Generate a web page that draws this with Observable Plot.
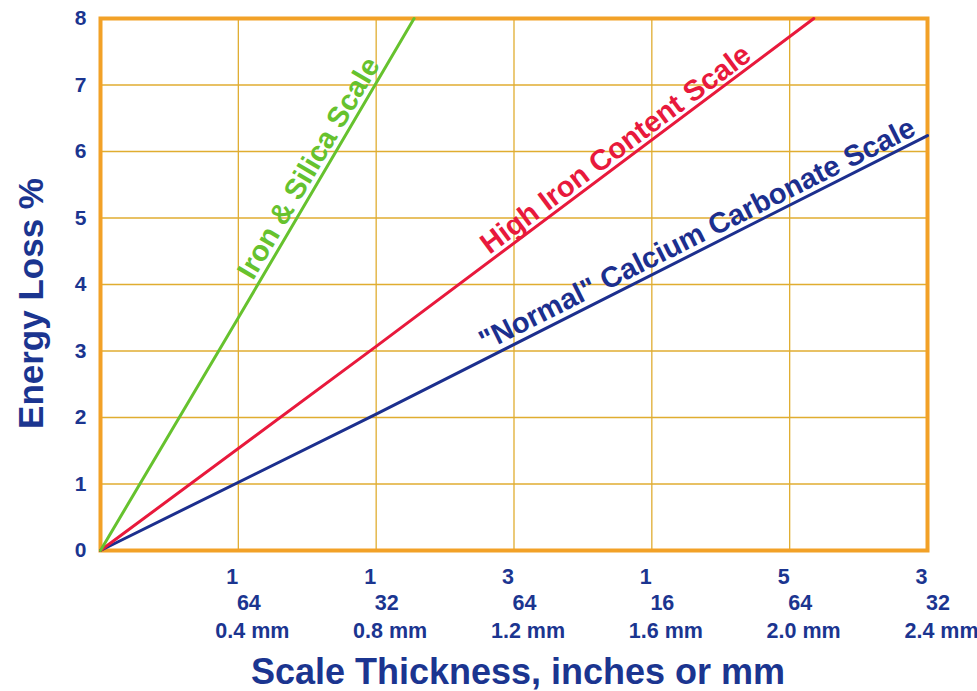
<!DOCTYPE html>
<html>
<head>
<meta charset="utf-8">
<script src="https://cdn.jsdelivr.net/npm/d3@7"></script>
<script src="https://cdn.jsdelivr.net/npm/@observablehq/plot@0.6"></script>
<style>
  html, body { margin: 0; padding: 0; background: #fff; }
  #chart svg { display: block; }
</style>
</head>
<body>
<div id="chart"></div>
<script>
// ---- data ----
const xTicksMm = [0.4, 0.8, 1.2, 1.6, 2.0, 2.4];
const fracNumerators = ["1", "1", "3", "1", "5", "3"];
const fracDenominators = ["64", "32", "64", "16", "64", "32"];
const mmLabels = ["0.4 mm", "0.8 mm", "1.2 mm", "1.6 mm", "2.0 mm", "2.4 mm"];
const yTicks = [0, 1, 2, 3, 4, 5, 6, 7, 8];

const normalX = [0, 0.8, 2.4];
const normalY = [0, 2.05, 6.24];
const highIronX = [0, 0.8, 2.07];
const highIronY = [0, 3.07, 8];
const ironSilicaX = [0, 0.4, 0.91];
const ironSilicaY = [0, 3.5, 8];

const seriesNames = ["\"Normal\" Calcium Carbonate Scale", "High Iron Content Scale", "Iron & Silica Scale"];
const labelAtX = [1.75, 1.52, 0.64];
const labelAtY = [4.56, 5.86, 5.64];

const xTitle = "Scale Thickness, inches or mm";
const yTitle = "Energy Loss %";

// ---- styles ----
const NAVY = "#1b3590";
const colors = ["#1c2f8e", "#e8193c", "#66c22e"];
const FONT = "'Liberation Sans', Arial, sans-serif";

const seriesData = [
  normalX.map((x, i) => ({x, y: normalY[i]})),
  highIronX.map((x, i) => ({x, y: highIronY[i]})),
  ironSilicaX.map((x, i) => ({x, y: ironSilicaY[i]}))
];
const tickTable = xTicksMm.map((x, i) => ({x, num: fracNumerators[i], den: fracDenominators[i], mm: mmLabels[i]}));

function chart(angles) {
  const labelMarks = seriesNames.map((name, i) => {
    const a = angles ? angles[i] : 0; // degrees, negative = upward
    const rad = -a * Math.PI / 180;
    const d = 5;
    return Plot.text([{x: labelAtX[i], y: labelAtY[i], t: name}], {
      x: "x", y: "y", text: "t",
      rotate: a,
      lineAnchor: "bottom",
      textAnchor: "middle",
      dx: -d * Math.sin(rad), dy: -d * Math.cos(rad),
      fill: colors[i], fontSize: 29, fontWeight: "bold", fontFamily: FONT
    });
  });
  return Plot.plot({
    width: 977,
    height: 691,
    marginLeft: 100,
    marginRight: 50,
    marginTop: 18,
    marginBottom: 141,
    style: {fontFamily: FONT, background: "#fff", overflow: "visible"},
    x: {domain: [0, 2.4], axis: null},
    y: {domain: [0, 8], axis: null},
    marks: [
      Plot.gridX(xTicksMm, {stroke: "#e0ad30", strokeOpacity: 1, strokeWidth: 1.3}),
      Plot.gridY(yTicks, {stroke: "#e0ad30", strokeOpacity: 1, strokeWidth: 1.3}),
      Plot.frame({stroke: "#f2a127", strokeWidth: 4}),
      ...seriesData.map((data, i) => Plot.line(data, {x: "x", y: "y", stroke: colors[i], strokeWidth: 3})),
      ...labelMarks,
      Plot.axisY(yTicks, {tickSize: 0, tickPadding: 14, tickFormat: "d", fontSize: 21, fontWeight: "bold", color: NAVY, fontFamily: FONT, label: null}),
      Plot.text(tickTable, {x: "x", frameAnchor: "bottom", text: "num", dx: -6, dy: 27, lineAnchor: "middle", fill: NAVY, fontSize: 21.5, fontWeight: "bold", fontFamily: FONT}),
      Plot.text(tickTable, {x: "x", frameAnchor: "bottom", text: "den", dx: 10.5, dy: 53, lineAnchor: "middle", fill: NAVY, fontSize: 21.5, fontWeight: "bold", fontFamily: FONT}),
      Plot.text(tickTable, {x: "x", frameAnchor: "bottom", text: "mm", dx: 14, dy: 81, lineAnchor: "middle", fill: NAVY, fontSize: 21.5, fontWeight: "bold", fontFamily: FONT}),
      Plot.text([xTitle], {frameAnchor: "bottom", dx: 4, dy: 122, textAnchor: "middle", lineAnchor: "middle", fill: NAVY, fontSize: 36, fontWeight: "bold", fontFamily: FONT}),
      Plot.text([yTitle], {frameAnchor: "left", dx: -58, dy: 19, rotate: -90, textAnchor: "middle", lineAnchor: "bottom", fill: NAVY, fontSize: 35, fontWeight: "bold", fontFamily: FONT})
    ]
  });
}

// First pass to read the scales, then compute label angles along the lines.
const probe = chart(null);
const sx = probe.scale("x"), sy = probe.scale("y");
const angles = seriesData.map(data => {
  const p0 = data[0], p1 = data[data.length - 1];
  const dxp = sx.apply(p1.x) - sx.apply(p0.x);
  const dyp = sy.apply(p1.y) - sy.apply(p0.y);
  return Math.atan2(dyp, dxp) * 180 / Math.PI;
});
document.getElementById("chart").append(chart(angles));
</script>
</body>
</html>
